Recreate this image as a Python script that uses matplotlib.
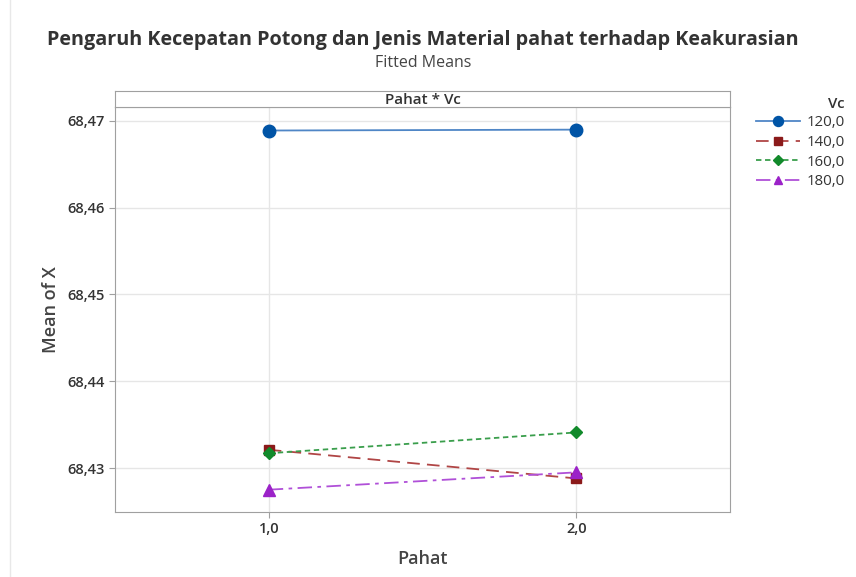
import matplotlib
matplotlib.use("Agg")
import matplotlib.pyplot as plt
from matplotlib.ticker import FuncFormatter

plt.rcParams['font.family'] = ['Open Sans', 'DejaVu Sans']

pahat = [1.0, 2.0]
vc_labels = ["120,0", "140,0", "160,0", "180,0"]
means_120 = [68.4689, 68.4690]
means_140 = [68.4321, 68.4288]
means_160 = [68.4317, 68.4341]
means_180 = [68.4275, 68.4295]
yticks = [68.43, 68.44, 68.45, 68.46, 68.47]
xticks = [1.0, 2.0]

series = [means_120, means_140, means_160, means_180]
colors = ["#0054A6", "#8B1A1A", "#128A2B", "#9B22C8"]
line_colors = ["#4F86C6", "#B04545", "#3A9E4C", "#B050D8"]
markers = ["o", "s", "D", "^"]
msizes = [9, 7, 6, 8]
styles = ["-", (0, (7, 4)), (0, (3, 2)), (0, (8, 3, 2, 3))]

fig = plt.figure(figsize=(8.56, 5.77), dpi=100)
ax = fig.add_axes([115/856, 1 - 512/577, 615/856, 405/577])

for vals, c, lc, m, ms, ls, lab in zip(series, colors, line_colors, markers, msizes, styles, vc_labels):
    ax.plot(pahat, vals, color=lc, linestyle=ls, linewidth=1.3, marker=m, markersize=ms,
            markerfacecolor=c, markeredgecolor=c, label=lab)

ax.set_xlim(0.5, 2.5)
ax.set_ylim(68.42493, 68.47161)
ax.set_xticks(xticks)
ax.set_yticks(yticks)
ax.xaxis.set_major_formatter(FuncFormatter(lambda v, p: f"{v:.1f}".replace(".", ",")))
ax.yaxis.set_major_formatter(FuncFormatter(lambda v, p: f"{v:.2f}".replace(".", ",")))
ax.grid(True, color="#E6E6E6", linewidth=1)
ax.set_axisbelow(True)
for s in ax.spines.values():
    s.set_color("#A0A0A0")
ax.tick_params(axis='both', colors="#A0A0A0", labelcolor="#333333", labelsize=10.5, length=4)
for lbl in ax.get_xticklabels() + ax.get_yticklabels():
    lbl.set_fontweight("semibold")

ax.set_xlabel("Pahat", fontsize=13, color="#444444", labelpad=10, fontweight="semibold")
ax.set_ylabel("Mean of X", fontsize=13, color="#444444", labelpad=5, fontweight="semibold")

# strip header
sax = fig.add_axes([115/856, 1 - 107/577, 615/856, 16/577])
sax.set_xticks([]); sax.set_yticks([])
for s in sax.spines.values():
    s.set_color("#A0A0A0")
sax.text(0.5, 0.45, "Pahat * Vc", ha="center", va="center", fontsize=11, fontweight="semibold",
         color="#333333", transform=sax.transAxes)

fig.text(0.494, 1 - 40/577, "Pengaruh Kecepatan Potong dan Jenis Material pahat terhadap Keakurasian",
         ha="center", va="center", fontsize=14.2, fontweight="bold", color="#333333")
fig.text(0.494, 1 - 63/577, "Fitted Means", ha="center", va="center", fontsize=11.5, color="#444444")

leg = fig.legend(loc="upper left", bbox_to_anchor=(756/856, 1 - 97/577), frameon=False,
                 title="Vc", fontsize=10.8, title_fontsize=10.8, handlelength=2.9,
                 handletextpad=0.45, labelspacing=0.3, borderaxespad=0, borderpad=0,
                 markerscale=0.8, alignment="right")
leg.get_title().set_color("#333333")
leg.get_title().set_fontweight("semibold")
for t in leg.get_texts():
    t.set_color("#333333")

# faint outer frame
fig.add_artist(plt.Line2D([10/856, 10/856], [0, 1], color="#E8E8E8", linewidth=1))

fig.savefig("out.png", dpi=100)
